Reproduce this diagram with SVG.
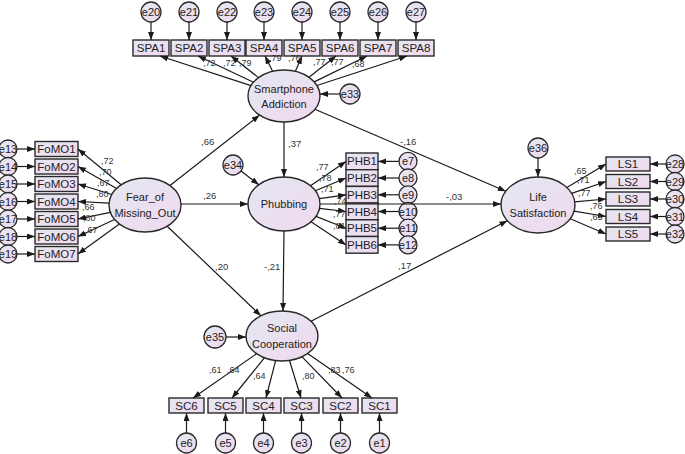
<svg xmlns="http://www.w3.org/2000/svg" width="685" height="454" viewBox="0 0 685 454">
<defs>
<linearGradient id="g" x1="0" y1="0" x2="1" y2="1">
<stop offset="0" stop-color="#e4e8f2"/>
<stop offset="1" stop-color="#f0d8ee"/>
</linearGradient>
<marker id="ah" markerWidth="8" markerHeight="6" refX="8" refY="3" orient="auto" markerUnits="userSpaceOnUse">
<path d="M0,0 L8,3 L0,6 Z" fill="#1a1a1a"/>
</marker>
</defs>
<style>
.lat{fill:url(#g);stroke:#2a2a2a;stroke-width:1.4}
.obs{fill:url(#g);stroke:#2a2a2a;stroke-width:1.4}
.err{fill:url(#g);stroke:#2a2a2a;stroke-width:1.3}
text{font-family:"Liberation Sans",Arial,sans-serif;fill:#222}
.nt{font-size:11px;text-anchor:middle;dominant-baseline:central}
.bt{font-size:11.5px;text-anchor:middle;dominant-baseline:central}
.et{font-size:11px;text-anchor:middle;dominant-baseline:central}
.cl{font-size:9px;fill:#333}
.pl{font-size:9.5px;fill:#333}
.c line{stroke:#1a1a1a;stroke-width:1.2;marker-end:url(#ah)}
</style>

<!-- Latent nodes -->
<g id="SA"><ellipse class="lat" cx="284" cy="96" rx="36" ry="26"/><text class="nt" x="284" y="89">Smartphone</text><text class="nt" x="284" y="104">Addiction</text></g>
<g id="FM"><ellipse class="lat" cx="145" cy="205" rx="36" ry="27"/><text class="nt" x="145" y="197">Fear_of</text><text class="nt" x="145" y="213">Missing_Out</text></g>
<g id="PH"><ellipse class="lat" cx="284" cy="204" rx="36" ry="27"/><text class="nt" x="284" y="204">Phubbing</text></g>
<g id="LSat"><ellipse class="lat" cx="538" cy="205" rx="37" ry="28"/><text class="nt" x="538" y="197">Life</text><text class="nt" x="538" y="213">Satisfaction</text></g>
<g id="SCoop"><ellipse class="lat" cx="282" cy="336" rx="36" ry="25"/><text class="nt" x="282" y="328">Social</text><text class="nt" x="282" y="344">Cooperation</text></g>

<!-- SPA indicators -->
<g id="SPA1"><rect class="obs" x="133" y="40" width="36" height="16"/><text class="bt" x="151" y="48">SPA1</text></g>
<g id="SPA2"><rect class="obs" x="171" y="40" width="36" height="16"/><text class="bt" x="189" y="48">SPA2</text></g>
<g id="SPA3"><rect class="obs" x="209" y="40" width="36" height="16"/><text class="bt" x="227" y="48">SPA3</text></g>
<g id="SPA4"><rect class="obs" x="246" y="40" width="36" height="16"/><text class="bt" x="264" y="48">SPA4</text></g>
<g id="SPA5"><rect class="obs" x="284" y="40" width="36" height="16"/><text class="bt" x="302" y="48">SPA5</text></g>
<g id="SPA6"><rect class="obs" x="322" y="40" width="36" height="16"/><text class="bt" x="340" y="48">SPA6</text></g>
<g id="SPA7"><rect class="obs" x="360" y="40" width="36" height="16"/><text class="bt" x="378" y="48">SPA7</text></g>
<g id="SPA8"><rect class="obs" x="398" y="40" width="36" height="16"/><text class="bt" x="416" y="48">SPA8</text></g>

<g id="e20"><circle class="err" cx="151" cy="12" r="10"/><text class="et" x="151" y="12">e20</text></g>
<g id="e21"><circle class="err" cx="189" cy="12" r="10"/><text class="et" x="189" y="12">e21</text></g>
<g id="e22"><circle class="err" cx="227" cy="12" r="10"/><text class="et" x="227" y="12">e22</text></g>
<g id="e23"><circle class="err" cx="264" cy="12" r="10"/><text class="et" x="264" y="12">e23</text></g>
<g id="e24"><circle class="err" cx="302" cy="12" r="10"/><text class="et" x="302" y="12">e24</text></g>
<g id="e25"><circle class="err" cx="340" cy="12" r="10"/><text class="et" x="340" y="12">e25</text></g>
<g id="e26"><circle class="err" cx="378" cy="12" r="10"/><text class="et" x="378" y="12">e26</text></g>
<g id="e27"><circle class="err" cx="416" cy="12" r="10"/><text class="et" x="416" y="12">e27</text></g>
<g id="e33"><circle class="err" cx="350" cy="94" r="10"/><text class="et" x="350" y="94">e33</text></g>

<!-- FoMO indicators -->
<g id="FoMO1"><rect class="obs" x="35" y="141.5" width="43" height="15"/><text class="bt" x="56.5" y="149">FoMO1</text></g>
<g id="FoMO2"><rect class="obs" x="35" y="159" width="43" height="15"/><text class="bt" x="56.5" y="166.5">FoMO2</text></g>
<g id="FoMO3"><rect class="obs" x="35" y="176.5" width="43" height="15"/><text class="bt" x="56.5" y="184">FoMO3</text></g>
<g id="FoMO4"><rect class="obs" x="35" y="194" width="43" height="15"/><text class="bt" x="56.5" y="201.5">FoMO4</text></g>
<g id="FoMO5"><rect class="obs" x="35" y="211.5" width="43" height="15"/><text class="bt" x="56.5" y="219">FoMO5</text></g>
<g id="FoMO6"><rect class="obs" x="35" y="229" width="43" height="15"/><text class="bt" x="56.5" y="236.5">FoMO6</text></g>
<g id="FoMO7"><rect class="obs" x="35" y="246.5" width="43" height="15"/><text class="bt" x="56.5" y="254">FoMO7</text></g>

<g id="e13"><circle class="err" cx="8" cy="149" r="9"/><text class="et" x="8" y="149">e13</text></g>
<g id="e14"><circle class="err" cx="8" cy="166.5" r="9"/><text class="et" x="8" y="166.5">e14</text></g>
<g id="e15"><circle class="err" cx="8" cy="184" r="9"/><text class="et" x="8" y="184">e15</text></g>
<g id="e16"><circle class="err" cx="8" cy="201.5" r="9"/><text class="et" x="8" y="201.5">e16</text></g>
<g id="e17"><circle class="err" cx="8" cy="219" r="9"/><text class="et" x="8" y="219">e17</text></g>
<g id="e18"><circle class="err" cx="8" cy="236.5" r="9"/><text class="et" x="8" y="236.5">e18</text></g>
<g id="e19"><circle class="err" cx="8" cy="254" r="9"/><text class="et" x="8" y="254">e19</text></g>

<!-- PHB indicators -->
<g id="PHB1"><rect class="obs" x="346" y="153" width="32" height="16.7"/><text class="bt" x="362" y="161.4">PHB1</text></g>
<g id="PHB2"><rect class="obs" x="346" y="169.7" width="32" height="16.7"/><text class="bt" x="362" y="178">PHB2</text></g>
<g id="PHB3"><rect class="obs" x="346" y="186.4" width="32" height="16.7"/><text class="bt" x="362" y="194.8">PHB3</text></g>
<g id="PHB4"><rect class="obs" x="346" y="203.1" width="32" height="16.7"/><text class="bt" x="362" y="211.5">PHB4</text></g>
<g id="PHB5"><rect class="obs" x="346" y="219.8" width="32" height="16.7"/><text class="bt" x="362" y="228.2">PHB5</text></g>
<g id="PHB6"><rect class="obs" x="346" y="236.5" width="32" height="16.7"/><text class="bt" x="362" y="244.9">PHB6</text></g>

<g id="e7"><circle class="err" cx="408" cy="161.4" r="9"/><text class="et" x="408" y="161.4">e7</text></g>
<g id="e8"><circle class="err" cx="408" cy="178" r="9"/><text class="et" x="408" y="178">e8</text></g>
<g id="e9"><circle class="err" cx="408" cy="194.8" r="9"/><text class="et" x="408" y="194.8">e9</text></g>
<g id="e10"><circle class="err" cx="408" cy="211.5" r="9"/><text class="et" x="408" y="211.5">e10</text></g>
<g id="e11"><circle class="err" cx="408" cy="228.2" r="9"/><text class="et" x="408" y="228.2">e11</text></g>
<g id="e12"><circle class="err" cx="408" cy="244.9" r="9"/><text class="et" x="408" y="244.9">e12</text></g>
<g id="e34"><circle class="err" cx="233" cy="165" r="10"/><text class="et" x="233" y="165">e34</text></g>

<!-- LS indicators -->
<g id="LS1"><rect class="obs" x="606" y="157" width="44" height="14"/><text class="bt" x="628" y="164">LS1</text></g>
<g id="LS2"><rect class="obs" x="606" y="174.5" width="44" height="14"/><text class="bt" x="628" y="181.5">LS2</text></g>
<g id="LS3"><rect class="obs" x="606" y="192" width="44" height="14"/><text class="bt" x="628" y="199">LS3</text></g>
<g id="LS4"><rect class="obs" x="606" y="209.5" width="44" height="14"/><text class="bt" x="628" y="216.5">LS4</text></g>
<g id="LS5"><rect class="obs" x="606" y="227" width="44" height="14"/><text class="bt" x="628" y="234">LS5</text></g>

<g id="e28"><circle class="err" cx="675" cy="164" r="9"/><text class="et" x="675" y="164">e28</text></g>
<g id="e29"><circle class="err" cx="675" cy="181.5" r="9"/><text class="et" x="675" y="181.5">e29</text></g>
<g id="e30"><circle class="err" cx="675" cy="199" r="9"/><text class="et" x="675" y="199">e30</text></g>
<g id="e31"><circle class="err" cx="675" cy="216.5" r="9"/><text class="et" x="675" y="216.5">e31</text></g>
<g id="e32"><circle class="err" cx="675" cy="234" r="9"/><text class="et" x="675" y="234">e32</text></g>
<g id="e36"><circle class="err" cx="538" cy="148" r="10"/><text class="et" x="538" y="148">e36</text></g>

<!-- SC indicators -->
<g id="SC6"><rect class="obs" x="169" y="398" width="35" height="15"/><text class="bt" x="186.5" y="405.5">SC6</text></g>
<g id="SC5"><rect class="obs" x="208" y="398" width="35" height="15"/><text class="bt" x="225.5" y="405.5">SC5</text></g>
<g id="SC4"><rect class="obs" x="246" y="398" width="35" height="15"/><text class="bt" x="263.5" y="405.5">SC4</text></g>
<g id="SC3"><rect class="obs" x="284" y="398" width="35" height="15"/><text class="bt" x="301.5" y="405.5">SC3</text></g>
<g id="SC2"><rect class="obs" x="323" y="398" width="35" height="15"/><text class="bt" x="340.5" y="405.5">SC2</text></g>
<g id="SC1"><rect class="obs" x="362" y="398" width="35" height="15"/><text class="bt" x="379.5" y="405.5">SC1</text></g>

<g id="e6"><circle class="err" cx="186.5" cy="443" r="10"/><text class="et" x="186.5" y="443">e6</text></g>
<g id="e5"><circle class="err" cx="225.5" cy="443" r="10"/><text class="et" x="225.5" y="443">e5</text></g>
<g id="e4"><circle class="err" cx="263.5" cy="443" r="10"/><text class="et" x="263.5" y="443">e4</text></g>
<g id="e3"><circle class="err" cx="301.5" cy="443" r="10"/><text class="et" x="301.5" y="443">e3</text></g>
<g id="e2"><circle class="err" cx="340.5" cy="443" r="10"/><text class="et" x="340.5" y="443">e2</text></g>
<g id="e1"><circle class="err" cx="379.5" cy="443" r="10"/><text class="et" x="379.5" y="443">e1</text></g>
<g id="e35"><circle class="err" cx="215" cy="337" r="11"/><text class="et" x="215" y="337">e35</text></g>

<!-- Connectors -->
<g id="connectors" class="c">
<!-- structural paths -->
<line x1="170" y1="185.5" x2="259.6" y2="115.1"/>
<line x1="181" y1="204" x2="248" y2="204"/>
<line x1="167.2" y1="226.2" x2="260.8" y2="315.8"/>
<line x1="284" y1="122" x2="284" y2="177"/>
<line x1="314.9" y1="109.3" x2="505.8" y2="191.2"/>
<line x1="320" y1="204" x2="501" y2="204"/>
<line x1="284" y1="231" x2="283" y2="311"/>
<line x1="311" y1="321.2" x2="507.4" y2="220.7"/>
<!-- disturbances -->
<line x1="340" y1="94" x2="320" y2="94"/>
<line x1="241" y1="171" x2="258.8" y2="184.7"/>
<line x1="226" y1="337" x2="246" y2="337"/>
<line x1="538" y1="158" x2="538" y2="177"/>
<!-- SA loadings -->
<line x1="251" y1="85.6" x2="160" y2="56"/>
<line x1="253.5" y1="82.2" x2="198" y2="56"/>
<line x1="258.5" y1="77.6" x2="231" y2="56"/>
<line x1="272.6" y1="71.3" x2="265" y2="56"/>
<line x1="295.4" y1="71.3" x2="302" y2="56"/>
<line x1="309" y1="77.3" x2="336" y2="56"/>
<line x1="314.3" y1="81.9" x2="367" y2="56"/>
<line x1="317" y1="85.5" x2="407" y2="56"/>
<!-- SPA errors -->
<line x1="151" y1="22" x2="151" y2="40"/>
<line x1="189" y1="22" x2="189" y2="40"/>
<line x1="227" y1="22" x2="227" y2="40"/>
<line x1="264" y1="22" x2="264" y2="40"/>
<line x1="302" y1="22" x2="302" y2="40"/>
<line x1="340" y1="22" x2="340" y2="40"/>
<line x1="378" y1="22" x2="378" y2="40"/>
<line x1="416" y1="22" x2="416" y2="40"/>
<!-- FoMO loadings -->
<line x1="121.2" y1="184.8" x2="78" y2="149"/>
<line x1="116.6" y1="188.4" x2="78" y2="166.5"/>
<line x1="111.9" y1="194.5" x2="78" y2="184"/>
<line x1="109.1" y1="203.1" x2="78" y2="201.5"/>
<line x1="110.4" y1="212.3" x2="78" y2="219"/>
<line x1="114.6" y1="219.5" x2="78" y2="236.5"/>
<line x1="119.4" y1="224" x2="78" y2="254"/>
<!-- FoMO errors -->
<line x1="17" y1="149" x2="35" y2="149"/>
<line x1="17" y1="166.5" x2="35" y2="166.5"/>
<line x1="17" y1="184" x2="35" y2="184"/>
<line x1="17" y1="201.5" x2="35" y2="201.5"/>
<line x1="17" y1="219" x2="35" y2="219"/>
<line x1="17" y1="236.5" x2="35" y2="236.5"/>
<line x1="17" y1="254" x2="35" y2="254"/>
<!-- PHB loadings -->
<line x1="310.5" y1="185.7" x2="346" y2="161.4"/>
<line x1="315.4" y1="190.8" x2="346" y2="178"/>
<line x1="319.3" y1="198.7" x2="346" y2="194.8"/>
<line x1="319.5" y1="208.3" x2="346" y2="211.5"/>
<line x1="316" y1="216.4" x2="346" y2="228.2"/>
<line x1="311" y1="221.8" x2="346" y2="244.9"/>
<!-- PHB errors -->
<line x1="399" y1="161.4" x2="378" y2="161.4"/>
<line x1="399" y1="178" x2="378" y2="178"/>
<line x1="399" y1="194.8" x2="378" y2="194.8"/>
<line x1="399" y1="211.5" x2="378" y2="211.5"/>
<line x1="399" y1="228.2" x2="378" y2="228.2"/>
<line x1="399" y1="244.9" x2="378" y2="244.9"/>
<!-- LS loadings -->
<line x1="566.9" y1="187.6" x2="606" y2="164"/>
<line x1="571.7" y1="193.4" x2="606" y2="181.5"/>
<line x1="574.7" y1="201.8" x2="606" y2="199"/>
<line x1="574.1" y1="211.1" x2="606" y2="216.5"/>
<line x1="570.2" y1="218.7" x2="606" y2="234"/>
<!-- LS errors -->
<line x1="666" y1="164" x2="650" y2="164"/>
<line x1="666" y1="181.5" x2="650" y2="181.5"/>
<line x1="666" y1="199" x2="650" y2="199"/>
<line x1="666" y1="216.5" x2="650" y2="216.5"/>
<line x1="666" y1="234" x2="650" y2="234"/>
<!-- SC loadings -->
<line x1="256.6" y1="353.7" x2="193" y2="398"/>
<line x1="264.4" y1="357.8" x2="232" y2="398"/>
<line x1="275.6" y1="360.6" x2="266" y2="398"/>
<line x1="289.5" y1="360.5" x2="301" y2="398"/>
<line x1="302.1" y1="356.8" x2="342" y2="398"/>
<line x1="307.6" y1="353.6" x2="372" y2="398"/>
<!-- SC errors -->
<line x1="186.5" y1="433" x2="186.5" y2="413"/>
<line x1="225.5" y1="433" x2="225.5" y2="413"/>
<line x1="263.5" y1="433" x2="263.5" y2="413"/>
<line x1="301.5" y1="433" x2="301.5" y2="413"/>
<line x1="340.5" y1="433" x2="340.5" y2="413"/>
<line x1="379.5" y1="433" x2="379.5" y2="413"/>
</g>

<!-- Coefficient labels -->
<g id="labels">
<text class="pl" x="201" y="145">,66</text>
<text class="pl" x="203" y="199">,26</text>
<text class="pl" x="215" y="270">,20</text>
<text class="pl" x="288" y="147">,37</text>
<text class="pl" x="400" y="145">-,16</text>
<text class="pl" x="446" y="200">-,03</text>
<text class="pl" x="264" y="270">-,21</text>
<text class="pl" x="398" y="269">,17</text>
<text class="cl" x="203" y="66">,72</text>
<text class="cl" x="223" y="66">,72</text>
<text class="cl" x="239" y="66">,79</text>
<text class="cl" x="269" y="61">,79</text>
<text class="cl" x="288" y="61">,76</text>
<text class="cl" x="313" y="65">,77</text>
<text class="cl" x="331" y="65">,77</text>
<text class="cl" x="352" y="67">,68</text>
<text class="cl" x="101" y="164">,72</text>
<text class="cl" x="99" y="175">,70</text>
<text class="cl" x="97" y="186">,67</text>
<text class="cl" x="96" y="197">,80</text>
<text class="cl" x="82" y="210">,66</text>
<text class="cl" x="83" y="221">,80</text>
<text class="cl" x="85" y="233">,67</text>
<text class="cl" x="316" y="170">,77</text>
<text class="cl" x="319" y="181">,78</text>
<text class="cl" x="321" y="192">,71</text>
<text class="cl" x="334" y="204">,74</text>
<text class="cl" x="333" y="217">,77</text>
<text class="cl" x="333" y="229">,81</text>
<text class="cl" x="574" y="174">,65</text>
<text class="cl" x="577" y="183">,71</text>
<text class="cl" x="578" y="196">,77</text>
<text class="cl" x="590" y="209">,76</text>
<text class="cl" x="590" y="220">,65</text>
<text class="cl" x="209" y="373">,61</text>
<text class="cl" x="227" y="373">,64</text>
<text class="cl" x="253" y="379">,64</text>
<text class="cl" x="302" y="379">,80</text>
<text class="cl" x="328" y="373">,83</text>
<text class="cl" x="342" y="373">,76</text>
</g>
</svg>
